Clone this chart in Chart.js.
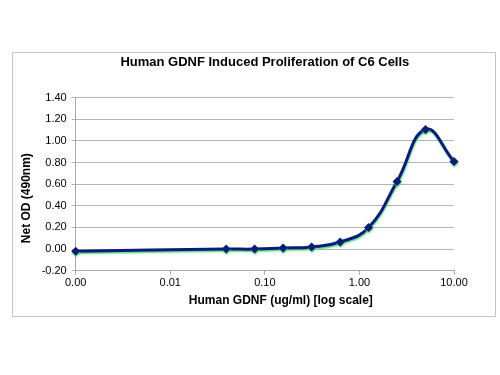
<!DOCTYPE html>
<html>
<head>
<meta charset="utf-8">
<script src="https://cdn.jsdelivr.net/npm/chart.js@4/dist/chart.umd.min.js"></script>
<style>
  html, body { margin: 0; padding: 0; background: #fff; }
  #frame {
    position: absolute; left: 12px; top: 52px;
    width: 484px; height: 265px; box-sizing: border-box;
    border: 1px solid #c4c4c4;
  }
  canvas { display: block; }
</style>
</head>
<body>
<div id="frame"><canvas id="gdnfChart" width="482" height="263"></canvas></div>
<script>
// GDNF concentration (ug/ml) and net OD readings
const concentrations = [0.001, 0.039, 0.078, 0.156, 0.3125, 0.625, 1.25, 2.5, 5, 10];
const netOD = [-0.02, 0.00, 0.00, 0.01, 0.02, 0.065, 0.20, 0.625, 1.105, 0.81];
const xTickValues = [0.001, 0.01, 0.1, 1, 10];
const xTickLabels = ['0.00', '0.01', '0.10', '1.00', '10.00'];

const FONT = '"Liberation Sans", Arial, sans-serif';

// green halo under the navy line (like the Excel glow)
const glowPlugin = {
    id: 'glow',
    beforeDatasetDraw(chart) {
        const c = chart.ctx;
        c.save();
        c.shadowColor = 'rgba(70, 215, 120, 0.9)';
        c.shadowOffsetX = 0.5;
        c.shadowOffsetY = 1.5;
        c.shadowBlur = 1.5;
    },
    afterDatasetDraw(chart) {
        chart.ctx.restore();
    }
};

// axis titles, drawn a bit off-centre like the original
const axisTitles = {
    id: 'axisTitles',
    afterDraw(chart) {
        const c = chart.ctx;
        const a = chart.chartArea;
        c.save();
        c.fillStyle = '#000';
        c.font = 'bold 12px ' + FONT;
        c.textAlign = 'center';
        c.textBaseline = 'middle';
        c.fillText('Human GDNF (ug/ml) [log scale]', (a.left + a.right) / 2 + 16, 248);
        c.translate(14, (a.top + a.bottom) / 2 + 14);
        c.rotate(-Math.PI / 2);
        c.fillText('Net OD (490nm)', 0, 0);
        c.restore();
    }
};

const ctx = document.getElementById('gdnfChart').getContext('2d');
const chart = new Chart(ctx, {
    type: 'line',
    data: {
        datasets: [{
            data: concentrations.map((x, i) => ({ x: x, y: netOD[i] })),
            borderColor: '#0c1a78',
            backgroundColor: '#0c1a78',
            borderWidth: 3,
            tension: 0.45,
            pointStyle: 'rectRot',
            pointRadius: 4.5,
            pointBorderWidth: 0,
            fill: false,
            clip: false
        }]
    },
    options: {
        responsive: false,
        devicePixelRatio: 1,
        animation: false,
        layout: { padding: { left: 0, right: 41, top: 0, bottom: 0 } },
        plugins: {
            legend: { display: false },
            tooltip: { enabled: false },
            title: {
                display: true,
                fullSize: false,
                text: 'Human GDNF Induced Proliferation of C6 Cells',
                color: '#000',
                font: { family: FONT, size: 13, weight: 'bold' },
                padding: { top: 2, bottom: 27 }
            }
        },
        scales: {
            x: {
                type: 'logarithmic',
                min: 0.001,
                max: 10,
                afterBuildTicks: (scale) => {
                    scale.ticks = xTickValues.map(v => ({ value: v }));
                },
                afterFit: (scale) => { scale.height = 45.3; },
                ticks: {
                    color: '#000',
                    font: { family: FONT, size: 11 },
                    padding: 2,
                    maxRotation: 0,
                    autoSkip: false,
                    callback: (value) => {
                        const i = xTickValues.indexOf(value);
                        return i >= 0 ? xTickLabels[i] : '';
                    }
                },
                grid: {
                    drawOnChartArea: false,
                    drawTicks: true,
                    tickLength: 4,
                    color: '#a8a8a8'
                },
                border: { color: '#a8a8a8' }
            },
            y: {
                min: -0.2,
                max: 1.4,
                afterFit: (scale) => { scale.width = 62.7; },
                ticks: {
                    stepSize: 0.2,
                    color: '#000',
                    font: { family: FONT, size: 11 },
                    padding: 5,
                    callback: (value) => (Math.round(value * 100) / 100 + 0).toFixed(2)
                },
                grid: {
                    color: '#b4b4b4',
                    tickLength: 4
                },
                border: { color: '#a8a8a8' }
            }
        }
    },
    plugins: [glowPlugin, axisTitles]
});
</script>
</body>
</html>
